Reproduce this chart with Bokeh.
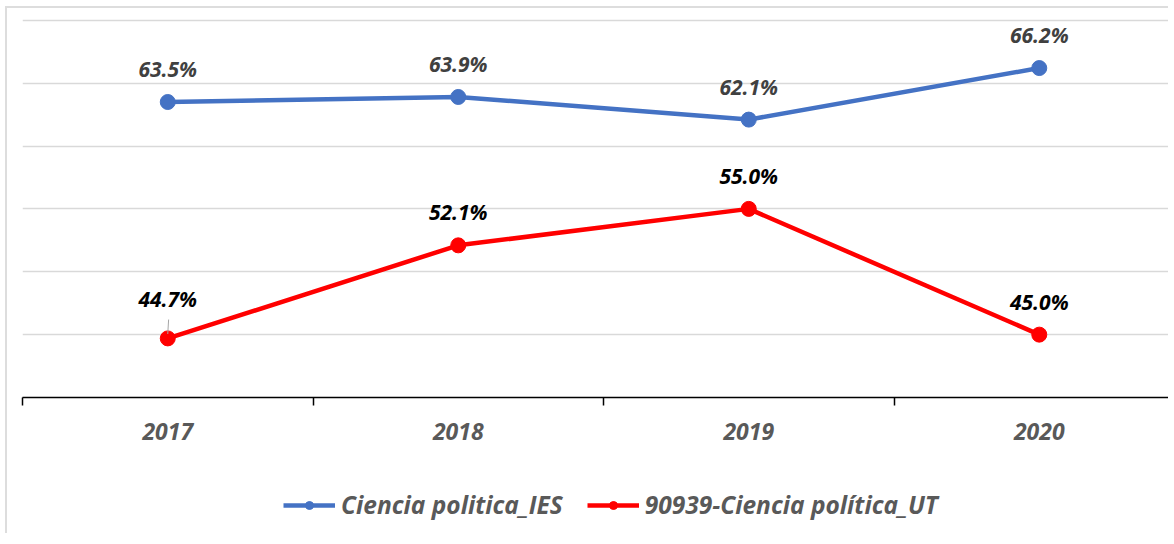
from bokeh.plotting import figure
from bokeh.models import (ColumnDataSource, Range1d, FixedTicker, Grid, SingleIntervalTicker,
                          Legend, LegendItem, LinearAxis)
from bokeh.layouts import column
from bokeh.core.properties import value
from bokeh.embed import file_html
from bokeh.resources import INLINE

years = ["2017", "2018", "2019", "2020"]
ies_values = [63.5, 63.9, 62.1, 66.2]
ut_values = [44.7, 52.1, 55.0, 45.0]
series_names = ["Ciencia politica_IES", "90939-Ciencia política_UT"]

BLUE = "#4472C4"
RED = "#FF0000"
FONT = "Open Sans"
BORDER = "2px solid #DDDDDD"

x = list(range(len(years)))

p = figure(frame_width=1146, frame_height=379, output_backend="svg", toolbar_location=None,
           x_range=Range1d(-0.5, -0.5 + 1146 / 290), y_range=Range1d(40, 70.3),
           y_axis_location=None, x_axis_location=None,
           min_border_left=15, min_border_right=0, min_border_top=8, min_border_bottom=60)
p.margin = (6, 0, 0, 5)
p.styles = {"border-left": BORDER, "border-top": BORDER}
p.outline_line_color = None
p.background_fill_color = "white"
p.border_fill_color = "white"
for g in p.grid:
    g.visible = False

grid = Grid(dimension=1, ticker=SingleIntervalTicker(interval=5),
            grid_line_color="#D9D9D9", grid_line_width=1.5)
p.add_layout(grid)

xaxis = LinearAxis(ticker=FixedTicker(ticks=x, minor_ticks=[i - 0.5 for i in range(len(years) + 1)]))
xaxis.major_label_overrides = {i: y for i, y in enumerate(years)}
xaxis.axis_line_color = "black"
xaxis.axis_line_width = 1.5
xaxis.major_tick_line_color = None
xaxis.minor_tick_line_color = "black"
xaxis.minor_tick_line_width = 1.5
xaxis.minor_tick_out = 8
xaxis.minor_tick_in = 0
xaxis.major_tick_out = 8
xaxis.major_label_standoff = 17
xaxis.major_label_text_font = FONT
xaxis.major_label_text_font_style = "bold italic"
xaxis.major_label_text_font_size = "23px"
xaxis.major_label_text_color = "#595959"
p.add_layout(xaxis, "below")

def label_offsets(vals, first_extra=0):
    offs = [-33] * len(vals)
    offs[0] -= first_extra
    return offs

src_ies = ColumnDataSource(dict(x=x, y=ies_values,
                                lbl=[f"{v:.1f}%" for v in ies_values],
                                dy=label_offsets(ies_values)))
src_ut = ColumnDataSource(dict(x=x, y=ut_values,
                               lbl=[f"{v:.1f}%" for v in ut_values],
                               dy=label_offsets(ut_values, 6)))

p.line("x", "y", source=src_ies, line_color=BLUE, line_width=4.5)
p.scatter("x", "y", source=src_ies, size=15, fill_color=BLUE, line_color=BLUE)
p.line("x", "y", source=src_ut, line_color=RED, line_width=4.5)
p.scatter("x", "y", source=src_ut, size=15, fill_color=RED, line_color=RED)

# leader line for first UT label
p.segment(x0=[x[0]], y0=[ut_values[0] + 0.35], x1=[x[0] + 0.003], y1=[ut_values[0] + 1.5],
          line_color="#A6A6A6", line_width=1)

p.text("x", "y", text="lbl", source=src_ies, y_offset="dy", text_align="center",
       text_baseline="alphabetic", text_font=value(FONT), text_font_style="bold italic",
       text_font_size="21px", text_color="#404040")
p.text("x", "y", text="lbl", source=src_ut, y_offset="dy", text_align="center",
       text_baseline="alphabetic", text_font=value(FONT), text_font_style="bold italic",
       text_font_size="21px", text_color="black")

# legend strip below the chart (its series renderers fall outside this strip's range)
leg = figure(frame_width=1155, frame_height=78, output_backend="svg", toolbar_location=None,
             x_range=Range1d(0, 1), y_range=Range1d(0, 1),
             x_axis_location=None, y_axis_location=None,
             min_border_left=0, min_border_right=0, min_border_top=0, min_border_bottom=0)
leg.margin = (0, 0, 0, 5)
leg.styles = {"border-left": BORDER}
leg.outline_line_color = None
leg.background_fill_color = "white"
leg.border_fill_color = "white"
for g in leg.grid:
    g.visible = False

k1 = leg.line("x", "y", source=src_ies, line_color=BLUE, line_width=4.5)
k1s = leg.scatter("x", "y", source=src_ies, size=14, fill_color=BLUE, line_color=BLUE)
k2 = leg.line("x", "y", source=src_ut, line_color=RED, line_width=4.5)
k2s = leg.scatter("x", "y", source=src_ut, size=14, fill_color=RED, line_color=RED)

legend = Legend(items=[LegendItem(label=series_names[0], renderers=[k1, k1s]),
                       LegendItem(label=series_names[1], renderers=[k2, k2s])],
                orientation="horizontal", location=(276, 12),
                label_text_font=FONT, label_text_font_style="bold italic",
                label_text_font_size="24.5px", label_text_color="#595959",
                glyph_width=52, glyph_height=20, label_standoff=6, spacing=24,
                border_line_color=None, background_fill_alpha=0, margin=0, padding=0)
leg.add_layout(legend, "center")

layout = column(p, leg, spacing=0)
open("out.html", "w").write(file_html(layout, INLINE))
